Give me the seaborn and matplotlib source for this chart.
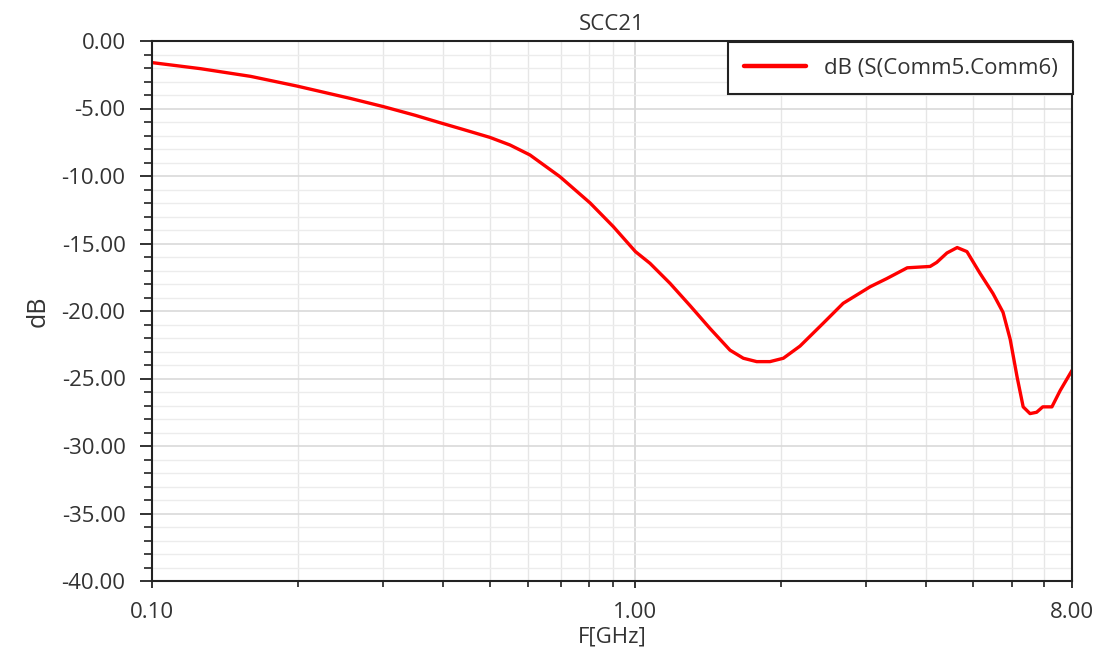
import numpy as np
import pandas as pd
import matplotlib
matplotlib.use("Agg")
import matplotlib.pyplot as plt
from matplotlib.ticker import FixedLocator, FixedFormatter, MultipleLocator, NullFormatter
import seaborn as sns

freq_ghz = [0.100, 0.126, 0.160, 0.199, 0.257, 0.301, 0.350, 0.394, 0.440, 0.500,
            0.550, 0.605, 0.698, 0.806, 0.900, 1.000, 1.072, 1.179, 1.297, 1.427,
            1.569, 1.672, 1.782, 1.898, 2.023, 2.190, 2.447, 2.690, 3.060, 3.310,
            3.650, 4.070, 4.200, 4.410, 4.630, 4.850, 5.160, 5.490, 5.760, 5.960,
            6.160, 6.340, 6.550, 6.760, 6.960, 7.270, 7.560, 8.000]
scc21_db = [-1.60, -2.05, -2.62, -3.33, -4.25, -4.86, -5.50, -6.05, -6.55, -7.14,
            -7.70, -8.44, -10.05, -12.00, -13.75, -15.60, -16.47, -17.95, -19.60, -21.30,
            -22.90, -23.50, -23.75, -23.75, -23.50, -22.60, -20.90, -19.43, -18.20, -17.60,
            -16.80, -16.70, -16.40, -15.70, -15.30, -15.60, -17.20, -18.70, -20.10, -22.10,
            -24.90, -27.10, -27.60, -27.50, -27.10, -27.10, -25.90, -24.40]

series_name = "dB (S(Comm5.Comm6)"
title = "SCC21"
x_label = "F[GHz]"
y_label = "dB"
x_major = [0.1, 1.0, 8.0]
x_major_labels = ["0.10", "1.00", "8.00"]
x_minor = [0.2, 0.3, 0.4, 0.5, 0.6, 0.7, 0.8, 0.9, 2, 3, 4, 5, 6, 7]
y_ticks = [-40, -35, -30, -25, -20, -15, -10, -5, 0]

sns.set_theme(style="white")
plt.rcParams['font.family'] = ['Open Sans', 'DejaVu Sans']
txt = "#333333"

df = pd.DataFrame({"F": freq_ghz, "dB": scc21_db, "series": series_name})

fig = plt.figure(figsize=(10.97, 6.64), dpi=100)
ax = fig.add_axes([152/1097, 1 - 581/664, 920/1097, 540/664])

sns.lineplot(data=df, x="F", y="dB", hue="series", palette=["#ff0000"],
             linewidth=2.4, ax=ax, legend=True)

ax.set_xscale("log")
ax.set_xlim(0.1, 8.0)
ax.set_ylim(-40, 0)

ax.xaxis.set_major_locator(FixedLocator(x_major))
ax.xaxis.set_major_formatter(FixedFormatter(x_major_labels))
ax.xaxis.set_minor_locator(FixedLocator(x_minor))
ax.xaxis.set_minor_formatter(NullFormatter())
ax.yaxis.set_major_locator(FixedLocator(y_ticks))
ax.yaxis.set_major_formatter(FixedFormatter([f"{v:.2f}" for v in y_ticks]))
ax.yaxis.set_minor_locator(MultipleLocator(1))

ax.grid(which="major", axis="y", color="#d9d9d9", linewidth=1.2)
ax.grid(which="minor", axis="y", color="#ececec", linewidth=1.0)
ax.grid(which="major", axis="x", color="#d4d4d4", linewidth=1.2)
ax.grid(which="minor", axis="x", color="#e6e6e6", linewidth=1.0)
ax.set_axisbelow(True)

for s in ax.spines.values():
    s.set_color("#222222")
    s.set_linewidth(1.5)
    s.set_visible(True)

ax.tick_params(axis="y", which="major", direction="out", length=9, width=1.3,
               color="#222222", left=True, pad=10, labelsize=16, labelcolor=txt)
ax.tick_params(axis="y", which="minor", direction="out", length=6, width=1.2,
               color="#222222", left=True)
ax.tick_params(axis="x", which="major", direction="out", length=5, width=1.3,
               color="#222222", bottom=True, pad=10, labelsize=16, labelcolor=txt)
ax.tick_params(axis="x", which="minor", direction="out", length=4, width=1.2,
               color="#222222", bottom=True)

ax.set_title(title, fontsize=16, color=txt, pad=8)
ax.set_xlabel(x_label, fontsize=16, color=txt, labelpad=3)
ax.set_ylabel(y_label, fontsize=18, color=txt, labelpad=8)

leg = ax.legend(loc="upper left", bbox_to_anchor=(728/1097, 1 - 42/664),
                bbox_transform=fig.transFigure, fontsize=16, frameon=True,
                fancybox=False, handlelength=2.8, handletextpad=0.8,
                borderpad=0.7, borderaxespad=0)
frame = leg.get_frame()
frame.set_edgecolor("#222222")
frame.set_linewidth(1.5)
frame.set_facecolor("white")
frame.set_alpha(1)
for t in leg.get_texts():
    t.set_color(txt)
for l in leg.get_lines():
    l.set_linewidth(3.2)

fig.savefig("out.png", dpi=100)
